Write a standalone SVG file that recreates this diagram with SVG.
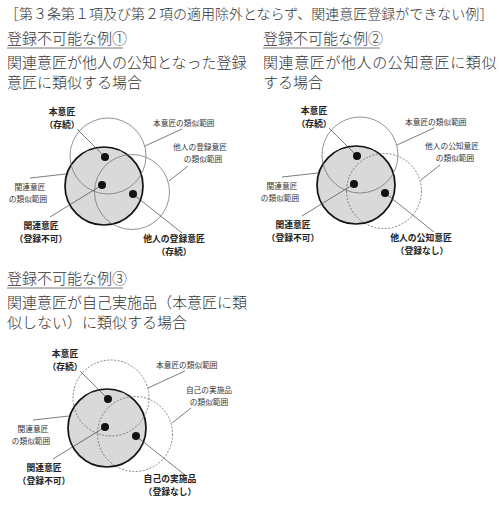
<svg xmlns="http://www.w3.org/2000/svg" width="500" height="508" viewBox="0 0 500 508">
<style>
.h{font-family:"Noto Sans CJK JP","Noto Sans CJK SC",sans-serif;fill:#333;font-weight:300}
.t1{font-size:14px}
.t2{font-size:15px}
.s{font-family:"Noto Sans CJK JP","Noto Sans CJK SC",sans-serif;font-size:7.7px;fill:#333}
.b{font-family:"Noto Sans CJK JP","Noto Sans CJK SC",sans-serif;font-size:8.8px;font-weight:700;fill:#222;text-anchor:middle}
.m{text-anchor:middle}
.thin{fill:none;stroke:#777;stroke-width:0.8}
.dash{fill:none;stroke:#666;stroke-width:0.8;stroke-dasharray:2 1.5}
.big{fill:#d9d9d9;stroke:#111;stroke-width:1.7}
.dot{fill:#111}
.ld{stroke:#444;stroke-width:0.7;fill:none}
.ul{stroke:#555;stroke-width:0.8}
</style>

<text class="h t1" x="5" y="19">［第３条第１項及び第２項の適用除外とならず、関連意匠登録ができない例］</text>

<g id="heading1">
<text class="h t2" x="7" y="44">登録不可能な例①</text>
<line class="ul" x1="7" y1="48" x2="123" y2="48"/>
<text class="h t2" x="7" y="68">関連意匠が他人の公知となった登録</text>
<text class="h t2" x="7" y="88">意匠に類似する場合</text>
</g>
<g id="heading2">
<text class="h t2" x="263" y="44">登録不可能な例②</text>
<line class="ul" x1="263" y1="48" x2="380" y2="48"/>
<text class="h t2" x="263" y="68" letter-spacing="0.6">関連意匠が他人の公知意匠に類似</text>
<text class="h t2" x="263" y="88">する場合</text>
</g>
<g id="heading3">
<text class="h t2" x="7" y="284">登録不可能な例③</text>
<line class="ul" x1="7" y1="288" x2="123" y2="288"/>
<text class="h t2" x="7" y="308">関連意匠が自己実施品（本意匠に類</text>
<text class="h t2" x="7" y="328">似しない）に類似する場合</text>
</g>

<!-- Diagram 1 -->
<g id="diagram1">
<g id="d1-related-range"><circle class="big" cx="104" cy="186" r="39"/></g>
<g id="d1-main-range"><circle class="thin" cx="108" cy="156" r="38"/></g>
<g id="d1-other-range"><circle class="thin" cx="132" cy="192" r="37.5"/></g>
<g id="d1-connectors">
<line class="ld" x1="77" y1="129" x2="105" y2="157"/>
<line class="ld" x1="145" y1="146" x2="182" y2="129"/>
<line class="ld" x1="169" y1="181" x2="188" y2="166"/>
<line class="ld" x1="30" y1="178" x2="66" y2="174"/>
<line class="ld" x1="50" y1="217" x2="102" y2="185"/>
<line class="ld" x1="133" y1="194" x2="182" y2="233"/>
</g>
<g id="d1-main"><circle class="dot" cx="105" cy="157" r="4"/><text class="b" x="62" y="115">本意匠</text><text class="b" x="62" y="128">（存続）</text></g>
<g id="d1-related"><circle class="dot" cx="102" cy="185" r="4"/><text class="b" x="41" y="229">関連意匠</text><text class="b" x="41" y="242">（登録不可）</text></g>
<g id="d1-other"><circle class="dot" cx="133" cy="194" r="4"/><text class="b" x="174" y="242">他人の登録意匠</text><text class="b" x="174" y="255">（存続）</text></g>
<g id="d1-labels">
<text class="s" x="153" y="126">本意匠の類似範囲</text>
<text class="s m" x="200" y="150">他人の登録意匠</text>
<text class="s m" x="203" y="161.5">の類似範囲</text>
<text class="s m" x="30" y="190">関連意匠</text>
<text class="s m" x="28" y="201.5">の類似範囲</text>
</g>
</g>

<!-- Diagram 2 -->
<g id="diagram2" transform="translate(252,-1)">
<g id="d2-related-range"><circle class="big" cx="104" cy="186" r="39"/></g>
<g id="d2-main-range"><circle class="thin" cx="108" cy="156" r="38"/></g>
<g id="d2-other-range"><circle class="dash" cx="132" cy="192" r="37.5"/></g>
<g id="d2-connectors">
<line class="ld" x1="77" y1="129" x2="105" y2="157"/>
<line class="ld" x1="145" y1="146" x2="182" y2="129"/>
<line class="ld" x1="169" y1="181" x2="188" y2="166"/>
<line class="ld" x1="30" y1="178" x2="66" y2="174"/>
<line class="ld" x1="50" y1="217" x2="102" y2="185"/>
<line class="ld" x1="133" y1="194" x2="182" y2="233"/>
</g>
<g id="d2-main"><circle class="dot" cx="105" cy="157" r="4"/><text class="b" x="62" y="115">本意匠</text><text class="b" x="62" y="128">（存続）</text></g>
<g id="d2-related"><circle class="dot" cx="102" cy="185" r="4"/><text class="b" x="41" y="229">関連意匠</text><text class="b" x="41" y="242">（登録不可）</text></g>
<g id="d2-other"><circle class="dot" cx="133" cy="194" r="4"/><text class="b" x="169" y="242">他人の公知意匠</text><text class="b" x="170" y="255">（登録なし）</text></g>
<g id="d2-labels">
<text class="s" x="153" y="126">本意匠の類似範囲</text>
<text class="s m" x="200" y="150">他人の公知意匠</text>
<text class="s m" x="203" y="161.5">の類似範囲</text>
<text class="s m" x="30" y="190">関連意匠</text>
<text class="s m" x="28" y="201.5">の類似範囲</text>
</g>
</g>

<!-- Diagram 3 -->
<g id="diagram3" transform="translate(3,242)">
<g id="d3-related-range"><circle class="big" cx="104" cy="186" r="39"/></g>
<g id="d3-main-range"><circle class="dash" cx="108" cy="156" r="38" stroke-dasharray="1.5 1"/></g>
<g id="d3-other-range"><circle class="dash" cx="132" cy="192" r="37.5"/></g>
<g id="d3-connectors">
<line class="ld" x1="77" y1="129" x2="105" y2="157"/>
<line class="ld" x1="145" y1="146" x2="182" y2="129"/>
<line class="ld" x1="169" y1="181" x2="188" y2="166"/>
<line class="ld" x1="30" y1="178" x2="66" y2="174"/>
<line class="ld" x1="50" y1="217" x2="102" y2="185"/>
<line class="ld" x1="133" y1="194" x2="182" y2="233"/>
</g>
<g id="d3-main"><circle class="dot" cx="105" cy="157" r="4"/><text class="b" x="62" y="115">本意匠</text><text class="b" x="62" y="128">（存続）</text></g>
<g id="d3-related"><circle class="dot" cx="102" cy="185" r="4"/><text class="b" x="41" y="229">関連意匠</text><text class="b" x="41" y="242">（登録不可）</text></g>
<g id="d3-other"><circle class="dot" cx="133" cy="194" r="4"/><text class="b" x="167" y="240">自己の実施品</text><text class="b" x="167" y="253">（登録なし）</text></g>
<g id="d3-labels">
<text class="s" x="153" y="126">本意匠の類似範囲</text>
<text class="s m" x="206" y="151">自己の実施品</text>
<text class="s m" x="206" y="162.5">の類似範囲</text>
<text class="s m" x="30" y="190">関連意匠</text>
<text class="s m" x="28" y="201.5">の類似範囲</text>
</g>
</g>
</svg>
